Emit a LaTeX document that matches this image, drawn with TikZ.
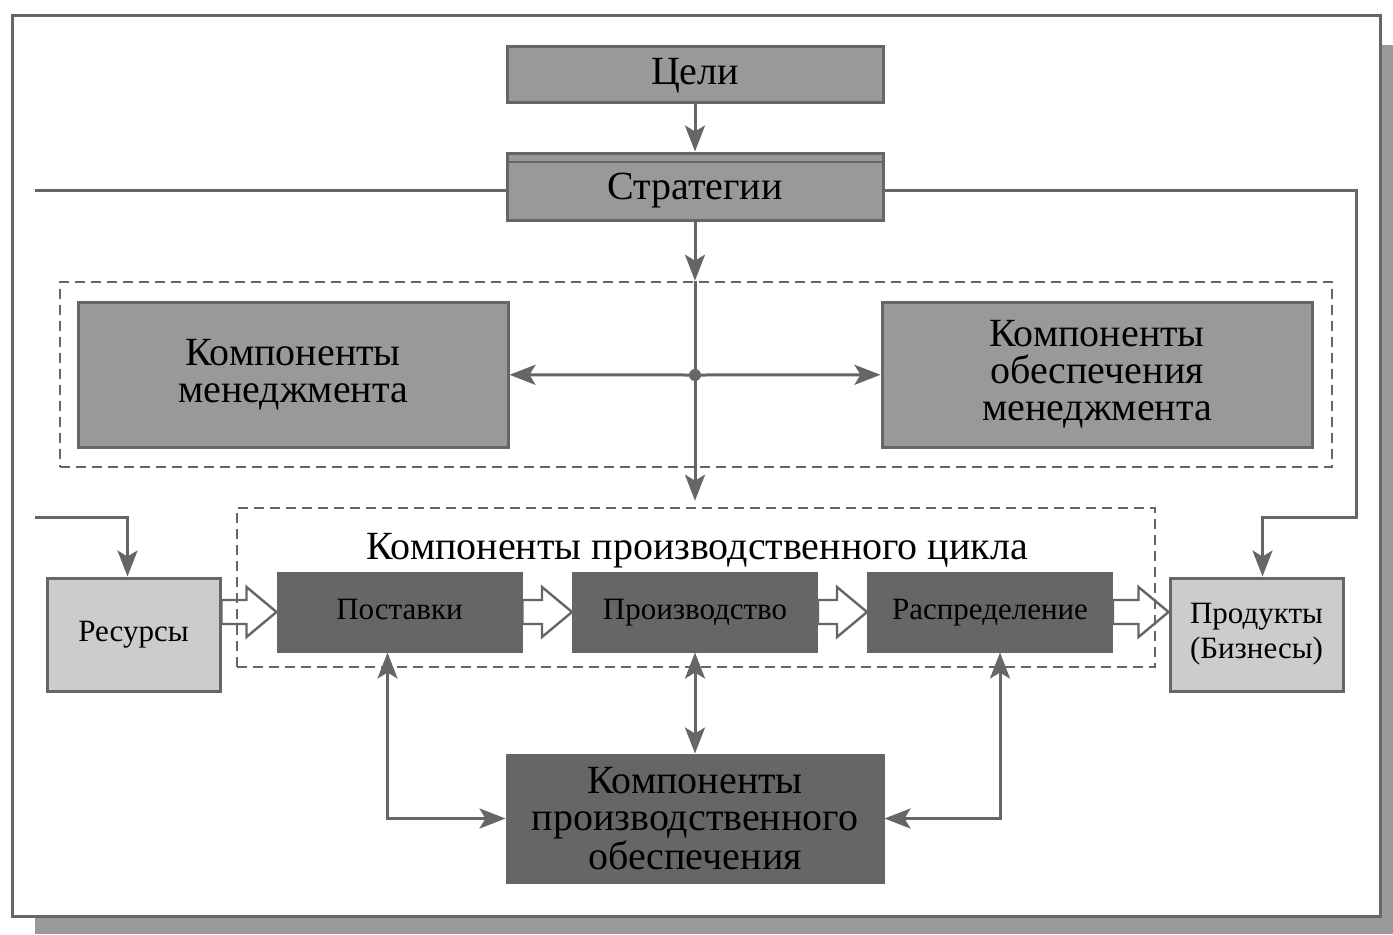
\documentclass[tikz,border=0pt]{standalone}
\usepackage{fontspec}
\setmainfont{Liberation Serif}
\usepackage{tikz}
\usetikzlibrary{arrows.meta,calc}

\definecolor{linegray}{gray}{0.4}
\definecolor{boxlight}{gray}{0.8}
\definecolor{boxmid}{gray}{0.6}
\definecolor{boxdark}{gray}{0.4}

\tikzset{
  box/.style={draw=linegray, line width=1.5pt, align=center, inner sep=0pt,
    font=\fontsize{20}{18.5}\selectfont},
  midbox/.style={box, fill=boxmid},
  darkbox/.style={box, fill=boxdark},
  lightbox/.style={box, fill=boxlight},
  smalltext/.style={font=\fontsize{15.5}{17.5}\selectfont},
  group/.style={draw=linegray, line width=1.3pt, dash pattern=on 5pt off 3pt, inner sep=0pt},
  conn/.style={draw=linegray, line width=1.5pt},
  fat/.style={draw=linegray, line width=1.2pt, fill=white, line join=miter}
}

% hollow arrow between two boxes of the cycle row
\newcommand\fatarrow[2]{%
  \draw[fat] let \p1=(#1.east), \p2=(#2.west), \p3=(prod) in
    (\x1,\y3+6pt) -- (\x2-15pt,\y3+6pt) -- (\x2-15pt,\y3+12.5pt) -- (\x2,\y3)
    -- (\x2-15pt,\y3-12.5pt) -- (\x2-15pt,\y3-6pt) -- (\x1,\y3-6pt) -- cycle;}

\begin{document}
\begin{tikzpicture}[x=0.5pt,y=-0.5pt,>={Stealth[length=13pt,width=10pt,inset=3pt]}]
\useasboundingbox (0,0) rectangle (1393,934);
\fill[boxmid] (35,45) rectangle (1393,934);
\draw[linegray, line width=1.5pt, fill=white] (12,15) rectangle (1380,916);

\node[midbox, text height=14pt, text depth=4pt, minimum width=188pt, minimum height=28pt] (goals) at (695,74) {Цели};
\node[midbox, text height=16.5pt, text depth=4pt, minimum width=188pt, minimum height=33.5pt] (strat) at (695,186.5) {Стратегии};
\draw[linegray, line width=1pt] ([yshift=-5pt]strat.north west) -- ([yshift=-5pt]strat.north east);

\node[midbox, minimum width=215pt, minimum height=72.5pt] (mgmt) at (293,374.5) {Компоненты\\менеджмента};
\node[midbox, minimum width=215pt, minimum height=72.5pt] (mgmtsupp) at (1097,374.5) {Компоненты\\обеспечения\\менеджмента};
\coordinate (hub) at (695,375);

\node[lightbox, smalltext, minimum width=86.5pt, minimum height=56.5pt] (res) at (133.5,634.5) {Ресурсы};
\node[darkbox, smalltext, text height=10pt, text depth=3pt, minimum width=121.5pt, minimum height=39pt] (supply) at (399.5,612) {Поставки};
\node[darkbox, smalltext, text height=10pt, text depth=3pt, minimum width=121.5pt, minimum height=39pt] (prod) at (695,612) {Производство};
\node[darkbox, smalltext, text height=10pt, text depth=3pt, minimum width=121.5pt, minimum height=39pt] (distr) at (990,612) {Распределение};
\node[lightbox, smalltext, minimum width=86.5pt, minimum height=56.5pt] (output) at (1256.5,634.5) {Продукты\\(Бизнесы)};
\node[font=\fontsize{20}{18.5}\selectfont] (cycle) at (697,551) {Компоненты производственного цикла};

\node[darkbox, minimum width=188pt, minimum height=63.5pt] (prodsupp) at (695,818.5) {Компоненты\\производственного\\обеспечения};

\fatarrow{res}{supply}
\fatarrow{supply}{prod}
\fatarrow{prod}{distr}
\fatarrow{distr}{output}

% dashed groups
\node[group, minimum width=636pt, minimum height=92.5pt] (grp1) at (696,374.5) {};
\node[group, minimum width=459pt, minimum height=79.5pt] (grp2) at (696,587.5) {};

\coordinate (lend) at (35,190);
\coordinate (lstart) at (35,517);
\coordinate (rbend) at (1356,517);

\draw[conn,->] (goals) -- (strat);
\draw[conn,->] (strat) -- (hub |- grp1.north);
\draw[conn] (hub |- grp1.north) -- (hub);
\fill[linegray] (hub) circle (3pt);
\draw[conn,->] (hub) -- (mgmt);
\draw[conn,->] (hub) -- (mgmtsupp);
\draw[conn,->] (hub) -- ($(hub |- grp2.north)+(0,-6)$);

\draw[conn] ([yshift=-1.75pt]strat.west) -- (lend);
\draw[conn,->] ([yshift=-1.75pt]strat.east) -| (rbend) -| ([xshift=3pt]output.north);
\draw[conn,->] (lstart) -| ([xshift=-3pt]res.north);

\draw[conn,<->] (prod) -- (prodsupp);
\draw[conn,<->] ([xshift=-6pt]supply.south) |- (prodsupp.west);
\draw[conn,<->] ([xshift=5pt]distr.south) |- (prodsupp.east);
\end{tikzpicture}
\end{document}
